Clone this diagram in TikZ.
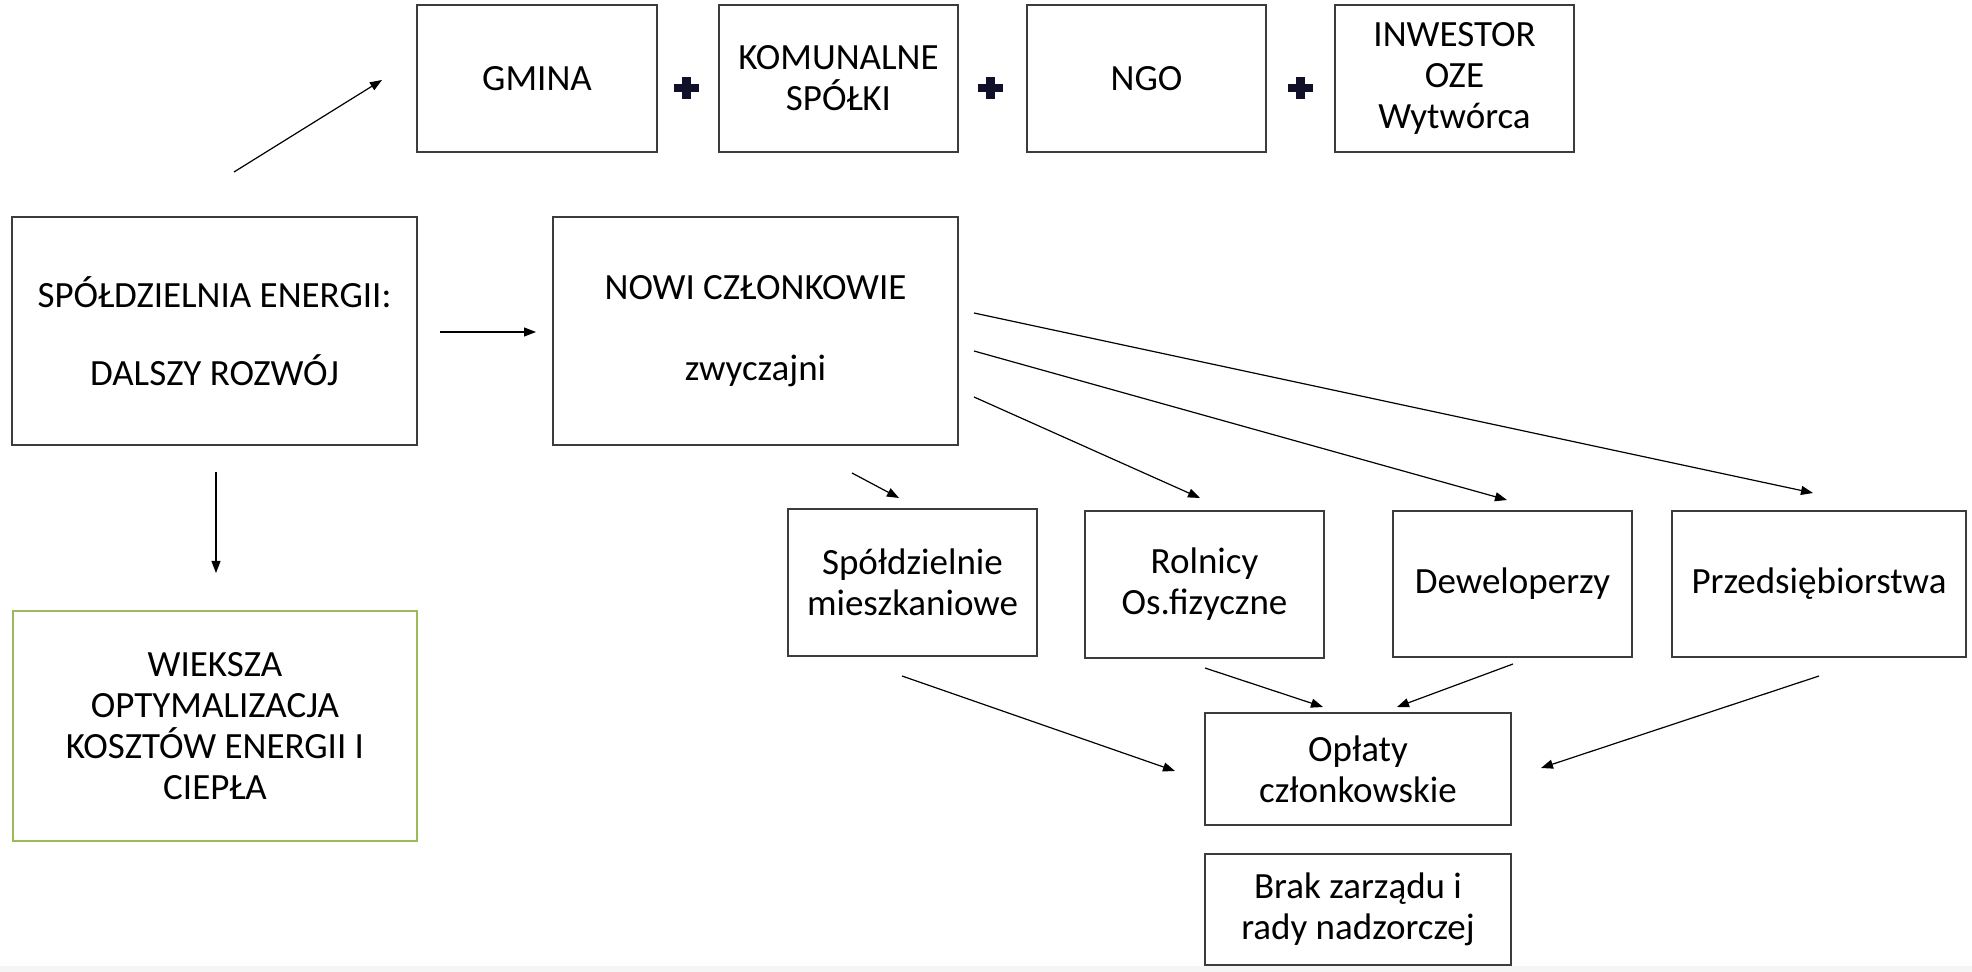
\documentclass[tikz,border=0pt]{standalone}
\usepackage{fontspec}
\setmainfont{Carlito}
\usetikzlibrary{arrows.meta}
\definecolor{boxgray}{RGB}{60,60,60}
\definecolor{boxgreen}{RGB}{155,187,89}
\definecolor{plusnavy}{RGB}{16,16,40}
\definecolor{stripgray}{RGB}{245,245,245}
\newcommand{\mainfs}{\fontsize{18.5pt}{20.5pt}\selectfont}
\tikzset{
  box/.style={draw=boxgray, line width=1pt, align=center, inner sep=0pt, font=\mainfs, rectangle},
  greenbox/.style={box, draw=boxgreen},
  arr/.style={-{Triangle[length=6pt,width=4.5pt]}, line width=0.6pt, black},
  plusarm/.style={fill=plusnavy, draw=none, rectangle, inner sep=0pt}
}
\begin{document}
\begin{tikzpicture}[x=0.5pt,y=-0.5pt]
\useasboundingbox (0,0) rectangle (1972,972);
\fill[stripgray] (0,966) rectangle (1972,972);

% top row
\node[box, minimum width=120pt, minimum height=73.5pt] (gmina) at (537,78.5) {GMINA};
\node[box, minimum width=119.5pt, minimum height=73.5pt] (komun) at (838.5,78.5) {KOMUNALNE\\SPÓŁKI};
\node[box, minimum width=119.5pt, minimum height=73.5pt] (ngo) at (1146.5,78.5) {NGO};
\node[box, minimum width=119.5pt, minimum height=73.5pt] (inwest) at (1454.5,78.5) {INWESTOR\\OZE\\Wytwórca};

% plus signs
\foreach \px/\nm in {686/p1, 990/p2, 1300/p3}{
  \node[plusarm, minimum width=12.5pt, minimum height=4pt] (\nm h) at (\px,88) {};
  \node[plusarm, minimum width=4.5pt, minimum height=11pt] (\nm v) at (\px,88) {};
}

% main boxes
\node[box, minimum width=202.5pt, minimum height=114pt] (spol) at (214.5,331)
  {SPÓŁDZIELNIA ENERGII:\\[18.5pt]DALSZY ROZWÓJ};
\node[box, minimum width=202.5pt, minimum height=114pt] (nowi) at (755.5,331)
  {NOWI CZŁONKOWIE\\[20pt]zwyczajni};
\node[greenbox, minimum width=202pt, minimum height=115pt] (wieksza) at (215,726.5)
  {WIEKSZA\\OPTYMALIZACJA\\KOSZTÓW ENERGII I\\CIEPŁA};

% member boxes
\node[box, minimum width=124.5pt, minimum height=73.5pt] (spm) at (912.5,582.5) {Spółdzielnie\\mieszkaniowe};
\node[box, minimum width=119.5pt, minimum height=73.5pt] (rol) at (1204.5,584.5) {Rolnicy\\Os.fizyczne};
\node[box, minimum width=119.5pt, minimum height=73pt] (dew) at (1512.5,584) {Deweloperzy};
\node[box, minimum width=147pt, minimum height=73pt] (prz) at (1819,584) {Przedsiębiorstwa};

% bottom boxes
\node[box, minimum width=153pt, minimum height=56pt] (opl) at (1358,769) {Opłaty\\członkowskie};
\node[box, minimum width=153pt, minimum height=55.5pt] (brak) at (1358,909.5) {Brak zarządu i\\rady nadzorczej};

% arrow end coordinates
\coordinate (gmS) at (234,172);   \coordinate (gmE) at (382,80);
\coordinate (nwS) at (440,332);   \coordinate (nwE) at (536,332);
\coordinate (dnS) at (216,472);   \coordinate (dnE) at (216,573);
\coordinate (n1S) at (852,473);   \coordinate (n1E) at (899,498);
\coordinate (n2S) at (974,397);   \coordinate (n2E) at (1200,498);
\coordinate (n3S) at (974,351);   \coordinate (n3E) at (1507,500);
\coordinate (n4S) at (974,313);   \coordinate (n4E) at (1813,493);
\coordinate (o1S) at (902,676);   \coordinate (o1E) at (1175,771);
\coordinate (o2S) at (1205,668);  \coordinate (o2E) at (1323,707);
\coordinate (o3S) at (1513,664);  \coordinate (o3E) at (1397,707);
\coordinate (o4S) at (1819,676);  \coordinate (o4E) at (1541,768);

\draw[arr] (gmS) -- (gmE);
\draw[arr] (nwS) -- (nwE);
\draw[arr] (dnS) -- (dnE);
\draw[arr] (n1S) -- (n1E);
\draw[arr] (n2S) -- (n2E);
\draw[arr] (n3S) -- (n3E);
\draw[arr] (n4S) -- (n4E);
\draw[arr] (o1S) -- (o1E);
\draw[arr] (o2S) -- (o2E);
\draw[arr] (o3S) -- (o3E);
\draw[arr] (o4S) -- (o4E);
\end{tikzpicture}
\end{document}
